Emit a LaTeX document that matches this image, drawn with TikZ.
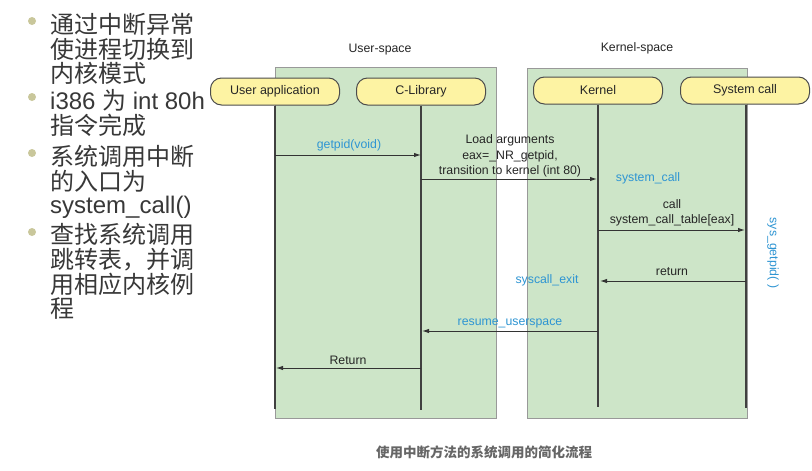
\documentclass[tikz,border=0pt]{standalone}
\usepackage{fontspec}
\setmainfont{Liberation Sans}
\newfontfamily\cjk{Noto Sans CJK SC}
\usetikzlibrary{arrows.meta}
\definecolor{boxgreen}{HTML}{CDE5C8}
\definecolor{hdryellow}{HTML}{FDF3A3}
\definecolor{lblblue}{HTML}{2E95D3}
\definecolor{bulletc}{HTML}{C9C79B}
\definecolor{txtgray}{HTML}{383838}
\begin{document}
\begin{tikzpicture}[x=1pt,y=-1pt,
  spacebox/.style={draw=black!40, fill=boxgreen, line width=0.8pt, inner sep=0pt},
  hdr/.style={draw=black!70, fill=hdryellow, rounded corners=11pt, minimum width=129pt, minimum height=27pt, line width=1pt, font=\fontsize{12.5}{14}\selectfont, inner sep=0pt, text=black!85},
  life/.style={draw=black!75, line width=1.2pt},
  msg/.style={draw=black!80, line width=1pt, -{Latex[length=7pt,width=4.5pt]}},
  lbl/.style={font=\fontsize{12.3}{15.5}\selectfont, text=black!85, inner sep=0pt, align=center},
  blbl/.style={lbl, text=lblblue},
  bl/.style={anchor=base west, font=\fontsize{24}{25}\selectfont, text=txtgray, inner sep=0pt},
  dot/.style={circle, fill=bulletc, minimum size=8pt, inner sep=0pt}]
\useasboundingbox (0,0) rectangle (812,471);
\fill[white] (0,0) rectangle (812,471);

% left bullet text
\node[dot] (d1) at (32,21) {};
\node[dot] (d2) at (32,97) {};
\node[dot] (d3) at (32,153) {};
\node[dot] (d4) at (32,232) {};
\node[bl] (t1) at (50,33) {\cjk 通过中断异常};
\node[bl] (t2) at (50,58) {\cjk 使进程切换到};
\node[bl] (t3) at (50,82) {\cjk 内核模式};
\node[bl] (t4) at (50,109) {i386 {\cjk 为} int 80h};
\node[bl] (t5) at (50,134) {\cjk 指令完成};
\node[bl] (t6) at (50,165) {\cjk 系统调用中断};
\node[bl] (t7) at (50,190) {\cjk 的入口为};
\node[bl] (t8) at (50,213) {system\_call()};
\node[bl] (t9) at (50,243) {\cjk 查找系统调用};
\node[bl] (t10) at (50,268) {\cjk 跳转表，并调};
\node[bl] (t11) at (50,293) {\cjk 用相应内核例};
\node[bl] (t12) at (50,317) {\cjk 程};

% spaces
\node[lbl] (us) at (380,50) {User-space};
\node[lbl] (ks) at (637,48) {Kernel-space};
\node[spacebox, minimum width=221pt, minimum height=351pt] (ubox) at (385.5,242.5) {};
\node[spacebox, minimum width=220pt, minimum height=350pt] (kbox) at (637,243) {};

% lifelines
\coordinate (uaE) at (275,409);
\coordinate (clE) at (421,410);
\coordinate (knE) at (598,407);
\coordinate (scE) at (746,408);
\node[hdr] (ua) at (275,91.5) {User application};
\node[hdr] (cl) at (421,91.5) {C-Library};
\node[hdr] (kn) at (598,90.5) {Kernel};
\node[hdr] (sc) at (745,90.5) {System call};
\draw[life] (ua.south) -- (uaE);
\draw[life] (cl.south) -- (clE);
\draw[life] (kn.south) -- (knE);
\draw[life] (sc.south -| scE) -- (scE);

% messages
\coordinate (m1s) at (275,155); \coordinate (m1e) at (421,155);
\coordinate (m2s) at (421,179); \coordinate (m2e) at (597,179);
\coordinate (m3s) at (598,230); \coordinate (m3e) at (745,230);
\coordinate (m4s) at (746,281); \coordinate (m4e) at (600,281);
\coordinate (m5s) at (598,331); \coordinate (m5e) at (422,331);
\coordinate (m6s) at (421,368); \coordinate (m6e) at (276,368);
\draw[msg] (m1s) -- (m1e);
\draw[msg] (m2s) -- (m2e);
\draw[msg] (m3s) -- (m3e);
\draw[msg] (m4s) -- (m4e);
\draw[msg] (m5s) -- (m5e);
\draw[msg] (m6s) -- (m6e);

% labels
\node[blbl] (l1) at (349,145) {getpid(void)};
\node[lbl] (l2) at (510,156) {Load arguments\\eax=\_NR\_getpid,\\transition to kernel (int 80)};
\node[blbl] (l3) at (648,178) {system\_call};
\node[lbl] (l4) at (672,213) {call\\system\_call\_table[eax]};
\node[blbl, rotate=-90] (l5) at (773,253) {sys\_getpid( )};
\node[lbl] (l6) at (672,272) {return};
\node[blbl] (l7) at (547,280) {syscall\_exit};
\node[blbl] (l8) at (510,323) {resume\_userspace};
\node[lbl] (l9) at (348,360) {Return};

% caption
\node[font=\fontsize{13.5}{15}\selectfont\bfseries, text=black!60, inner sep=0pt] (cap) at (484,452) {\cjk 使用中断方法的系统调用的简化流程};
\end{tikzpicture}
\end{document}
